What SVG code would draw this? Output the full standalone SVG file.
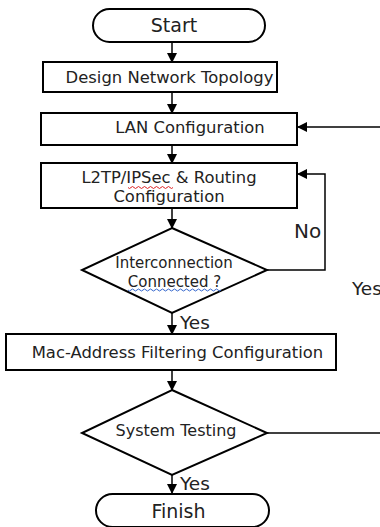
<svg xmlns="http://www.w3.org/2000/svg" width="380" height="527" viewBox="0 0 380 527">
<defs>
<marker id="ah" markerWidth="10" markerHeight="10" refX="9" refY="5" orient="auto" markerUnits="userSpaceOnUse">
<path d="M0,0 L10,5 L0,10 Z" fill="#000"/>
</marker>
</defs>
<style>
.s{fill:#fff;stroke:#000;stroke-width:2}
.t{font-family:"DejaVu Sans","Open Sans",sans-serif;font-size:16.4px;fill:#222;text-anchor:middle}
.d{font-size:15px}
.e{font-size:19px}
.l{font-family:"DejaVu Sans","Open Sans",sans-serif;font-size:18.5px;fill:#222}
.c{fill:none;stroke:#000;stroke-width:1.5}
.w{fill:none;stroke-width:1}
</style>
<rect width="380" height="527" fill="#fff"/>
<g id="connectors">
<line class="c" x1="172" y1="42" x2="172" y2="62" marker-end="url(#ah)"/>
<line class="c" x1="172" y1="92" x2="172" y2="113" marker-end="url(#ah)"/>
<line class="c" x1="172" y1="145" x2="172" y2="163" marker-end="url(#ah)"/>
<line class="c" x1="172" y1="208" x2="172" y2="228" marker-end="url(#ah)"/>
<polyline class="c" points="267,270 325,270 325,174 298,174" marker-end="url(#ah)"/>
<line class="c" x1="380" y1="127" x2="298" y2="127" marker-end="url(#ah)"/>
<line class="c" x1="172" y1="313" x2="172" y2="334" marker-end="url(#ah)"/>
<line class="c" x1="172" y1="370" x2="172" y2="390" marker-end="url(#ah)"/>
<line class="c" x1="267" y1="433" x2="380" y2="433"/>
<line class="c" x1="172" y1="475" x2="172" y2="493" marker-end="url(#ah)"/>
<text class="l" x="294" y="238" style="font-size:20px">No</text>
<text class="l" x="352" y="295">Yes</text>
<text class="l" x="180" y="329">Yes</text>
<text class="l" x="180" y="490">Yes</text>
</g>
<g id="start">
<rect class="s" x="93" y="9" width="172" height="33" rx="16.5"/>
<text class="t e" x="174" y="32">Start</text>
</g>
<g id="design">
<rect class="s" x="43" y="62" width="234" height="30"/>
<text class="t" x="169.5" y="83">Design Network Topology</text>
</g>
<g id="lan">
<rect class="s" x="41" y="113" width="256" height="32"/>
<text class="t" x="190" y="133">LAN Configuration</text>
</g>
<g id="l2tp">
<rect class="s" x="41" y="163" width="256" height="45"/>
<text class="t" x="169" y="183">L2TP/IPSec &amp; Routing</text>
<text class="t" x="169" y="202">Configuration</text>
<path class="w" stroke="#d22" d="M128,187.5 q1.5,2 3,0 t3,0 t3,0 t3,0 t3,0 t3,0 t3,0 t3,0 t3,0 t3,0 t3,0 t3,0 t3,0 t3,0 t3,0"/>
</g>
<g id="interconnection">
<polygon class="s" points="172,228 267,270 172,313 82,270"/>
<text class="t d" x="174" y="268">Interconnection</text>
<text class="t d" x="174.5" y="287">Connected ?</text>
<path class="w" stroke="#36c" d="M128,290 q1.5,2 3,0 t3,0 t3,0 t3,0 t3,0 t3,0 t3,0 t3,0 t3,0 t3,0 t3,0 t3,0 t3,0 t3,0 t3,0 t3,0 t3,0 t3,0 t3,0 t3,0 t3,0 t3,0 t3,0 t3,0 t3,0 t3,0 t3,0 t3,0 t3,0 t3,0 t3,0"/>
</g>
<g id="mac">
<rect class="s" x="6" y="334" width="330" height="36"/>
<text class="t" x="177.5" y="358">Mac-Address Filtering Configuration</text>
</g>
<g id="testing">
<polygon class="s" points="172,390 267,433 172,475 82,433"/>
<text class="t" x="176" y="436" style="font-size:16px">System Testing</text>
</g>
<g id="finish">
<rect class="s" x="96" y="494" width="173" height="33" rx="16.5"/>
<text class="t e" x="178.5" y="518">Finish</text>
</g>
</svg>
